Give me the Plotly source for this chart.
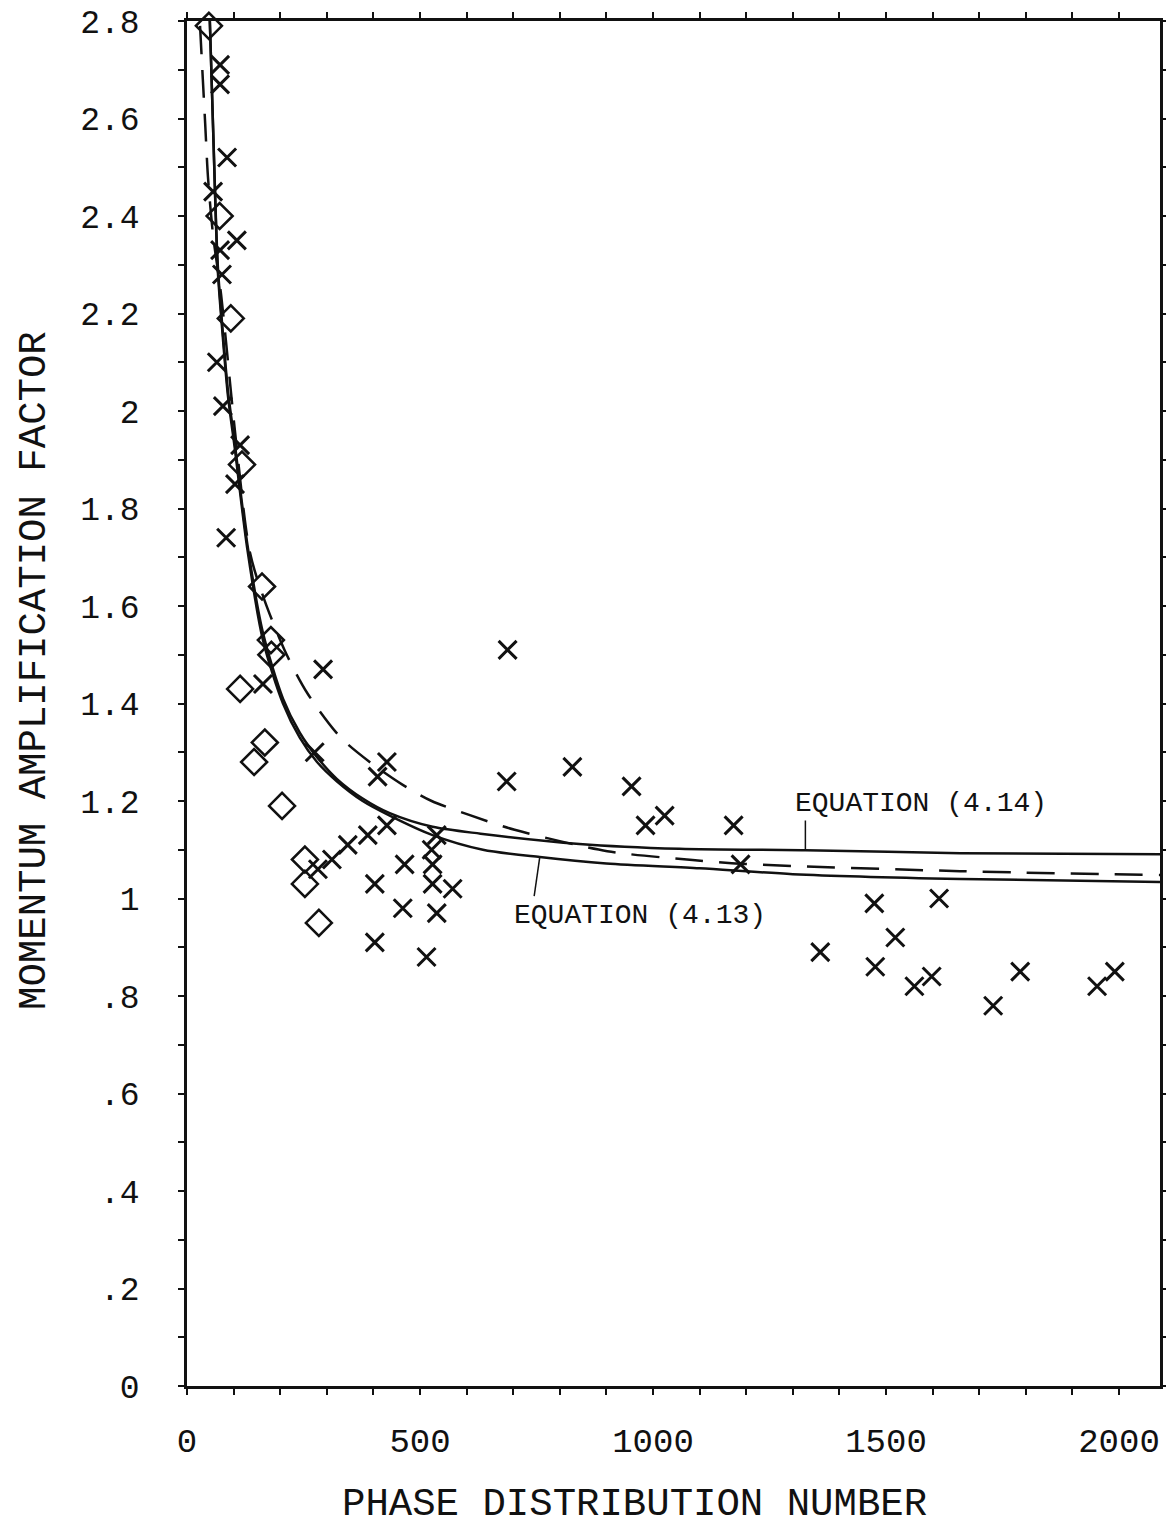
import plotly.graph_objects as go

# ---- data ----
diamond_x = [47, 70, 94, 118, 161, 180, 181, 114, 167, 144, 204, 253, 253, 283]
diamond_y = [2.79, 2.40, 2.19, 1.89, 1.64, 1.53, 1.50, 1.43, 1.32, 1.28, 1.19, 1.08, 1.03, 0.95]

cross_x = [71, 71, 86, 56, 107, 71, 75, 64, 77, 114, 103, 84, 163, 292, 274,
           429, 409, 429, 388, 345, 311, 281, 467, 403, 463, 403, 514,
           536, 525, 527, 527, 570, 536, 688, 686, 827, 954, 984, 1025,
           1173, 1188, 1475, 1614, 1520, 1359, 1477, 1561, 1598, 1788, 1730,
           1953, 1991]
cross_y = [2.71, 2.67, 2.52, 2.45, 2.35, 2.33, 2.28, 2.10, 2.01, 1.93, 1.85, 1.74, 1.44, 1.47, 1.30,
           1.28, 1.25, 1.15, 1.13, 1.11, 1.08, 1.06, 1.07, 1.03, 0.98, 0.91, 0.88,
           1.13, 1.10, 1.07, 1.03, 1.02, 0.97, 1.51, 1.24, 1.27, 1.23, 1.15, 1.17,
           1.15, 1.07, 0.99, 1.00, 0.92, 0.89, 0.86, 0.82, 0.84, 0.85, 0.78,
           0.82, 0.85]

eq413_x = [49, 56, 66, 77, 88, 103, 129, 163, 206, 242, 279, 322, 377, 435, 527, 635,
           757, 900, 1100, 1300, 1660, 2088]
eq413_y = [2.80, 2.58, 2.29, 2.15, 2.03, 1.92, 1.72, 1.53, 1.40, 1.33, 1.28, 1.24, 1.20, 1.17, 1.13, 1.10,
           1.085, 1.072, 1.062, 1.05, 1.04, 1.034]

eq414_x = [49, 56, 66, 77, 88, 103, 129, 163, 206, 242, 279, 322, 377, 435, 527, 630,
           842, 1057, 1327, 1660, 2088]
eq414_y = [2.80, 2.58, 2.30, 2.16, 2.04, 1.93, 1.73, 1.545, 1.41, 1.34, 1.29, 1.245, 1.205, 1.175, 1.147, 1.133,
           1.112, 1.102, 1.099, 1.093, 1.091]

dash_x = [28, 34, 39, 45, 56, 73, 105, 135, 167, 214, 259, 330, 392, 463, 525, 607,
          703, 902, 1085, 1194, 1659, 2088]
dash_y = [2.79, 2.68, 2.59, 2.48, 2.36, 2.24, 1.94, 1.71, 1.61, 1.50, 1.42, 1.33, 1.28, 1.233, 1.20, 1.171,
          1.141, 1.097, 1.079, 1.071, 1.056, 1.048]

x_tickvals = list(range(0, 2001, 100))
x_ticktext = ["0" if v == 0 else (str(v) if v % 500 == 0 else "") for v in x_tickvals]
y_tickvals = [round(i * 0.1, 1) for i in range(0, 29)]
y_labels = {0: "0", 2: ".2", 4: ".4", 6: ".6", 8: ".8", 10: "1", 12: "1.2", 14: "1.4",
            16: "1.6", 18: "1.8", 20: "2", 22: "2.2", 24: "2.4", 26: "2.6", 28: "2.8"}
y_ticktext = [y_labels.get(i, "") for i in range(0, 29)]

label_414 = "EQUATION (4.14)"
label_413 = "EQUATION (4.13)"
x_title = "PHASE DISTRIBUTION NUMBER"
y_title = "MOMENTUM AMPLIFICATION FACTOR"

INK = "#111111"
FONT = "Liberation Mono"

fig = go.Figure()
fig.add_trace(go.Scatter(x=eq413_x, y=eq413_y, mode="lines",
                         line=dict(color=INK, width=2.5, shape="spline", smoothing=0.8),
                         showlegend=False))
fig.add_trace(go.Scatter(x=eq414_x, y=eq414_y, mode="lines",
                         line=dict(color=INK, width=2.5, shape="spline", smoothing=0.8),
                         showlegend=False))
fig.add_trace(go.Scatter(x=dash_x, y=dash_y, mode="lines",
                         line=dict(color=INK, width=2.5, shape="spline", smoothing=0.8,
                                   dash="28px,16px"),
                         showlegend=False))
fig.add_trace(go.Scatter(x=diamond_x, y=diamond_y, mode="markers",
                         marker=dict(symbol="diamond-open", size=20, color=INK,
                                     line=dict(width=2.5, color=INK)),
                         cliponaxis=False, showlegend=False))
fig.add_trace(go.Scatter(x=cross_x, y=cross_y, mode="markers",
                         marker=dict(symbol="x-thin-open", size=18, color=INK,
                                     line=dict(width=3, color=INK)),
                         cliponaxis=False, showlegend=False))

# leader lines for the equation labels
fig.add_shape(type="line", x0=1327, y0=1.099, x1=1327, y1=1.16, xref="x", yref="y",
              line=dict(color=INK, width=1.5))
fig.add_shape(type="line", x0=757, y0=1.085, x1=745, y1=1.005, xref="x", yref="y",
              line=dict(color=INK, width=1.5))

fig.add_annotation(x=1327, y=1.16, xref="x", yref="y", text=label_414, showarrow=False,
                   xanchor="left", yanchor="bottom", xshift=-12, yshift=0,
                   font=dict(family=FONT, size=28, color=INK))
fig.add_annotation(x=745, y=1.005, xref="x", yref="y", text=label_413, showarrow=False,
                   xanchor="left", yanchor="top", xshift=-22, yshift=-2,
                   font=dict(family=FONT, size=28, color=INK))

# axis titles
fig.add_annotation(x=0.46, y=-0.087, xref="paper", yref="paper", text=x_title,
                   showarrow=False, xanchor="center", yanchor="middle",
                   font=dict(family=FONT, size=39, color=INK))
fig.add_annotation(x=-0.156, y=0.524, xref="paper", yref="paper", text=y_title,
                   showarrow=False, xanchor="center", yanchor="middle", textangle=-90,
                   font=dict(family=FONT, size=39, color=INK))

fig.update_layout(
    template="none",
    width=1166, height=1537,
    margin=dict(l=187, r=6, t=21, b=151, autoexpand=False),
    paper_bgcolor="white", plot_bgcolor="white",
    font=dict(family=FONT, color=INK),
    showlegend=False,
)
fig.update_xaxes(range=[0, 2088], tickmode="array", tickvals=x_tickvals, ticktext=x_ticktext,
                 ticks="outside", ticklen=6, tickwidth=2, tickcolor=INK,
                 showline=True, linewidth=2.5, linecolor=INK, mirror="ticks",
                 showgrid=False, zeroline=False, ticklabelstandoff=16, automargin=False,
                 tickfont=dict(family=FONT, size=34, color=INK))
fig.update_yaxes(range=[0, 2.8], tickmode="array", tickvals=y_tickvals, ticktext=y_ticktext,
                 ticks="outside", ticklen=6, tickwidth=2, tickcolor=INK,
                 showline=True, linewidth=2.5, linecolor=INK, mirror="ticks",
                 showgrid=False, zeroline=False, ticklabelstandoff=32, automargin=False,
                 tickfont=dict(family=FONT, size=33, color=INK))

fig.write_html("out.html")
